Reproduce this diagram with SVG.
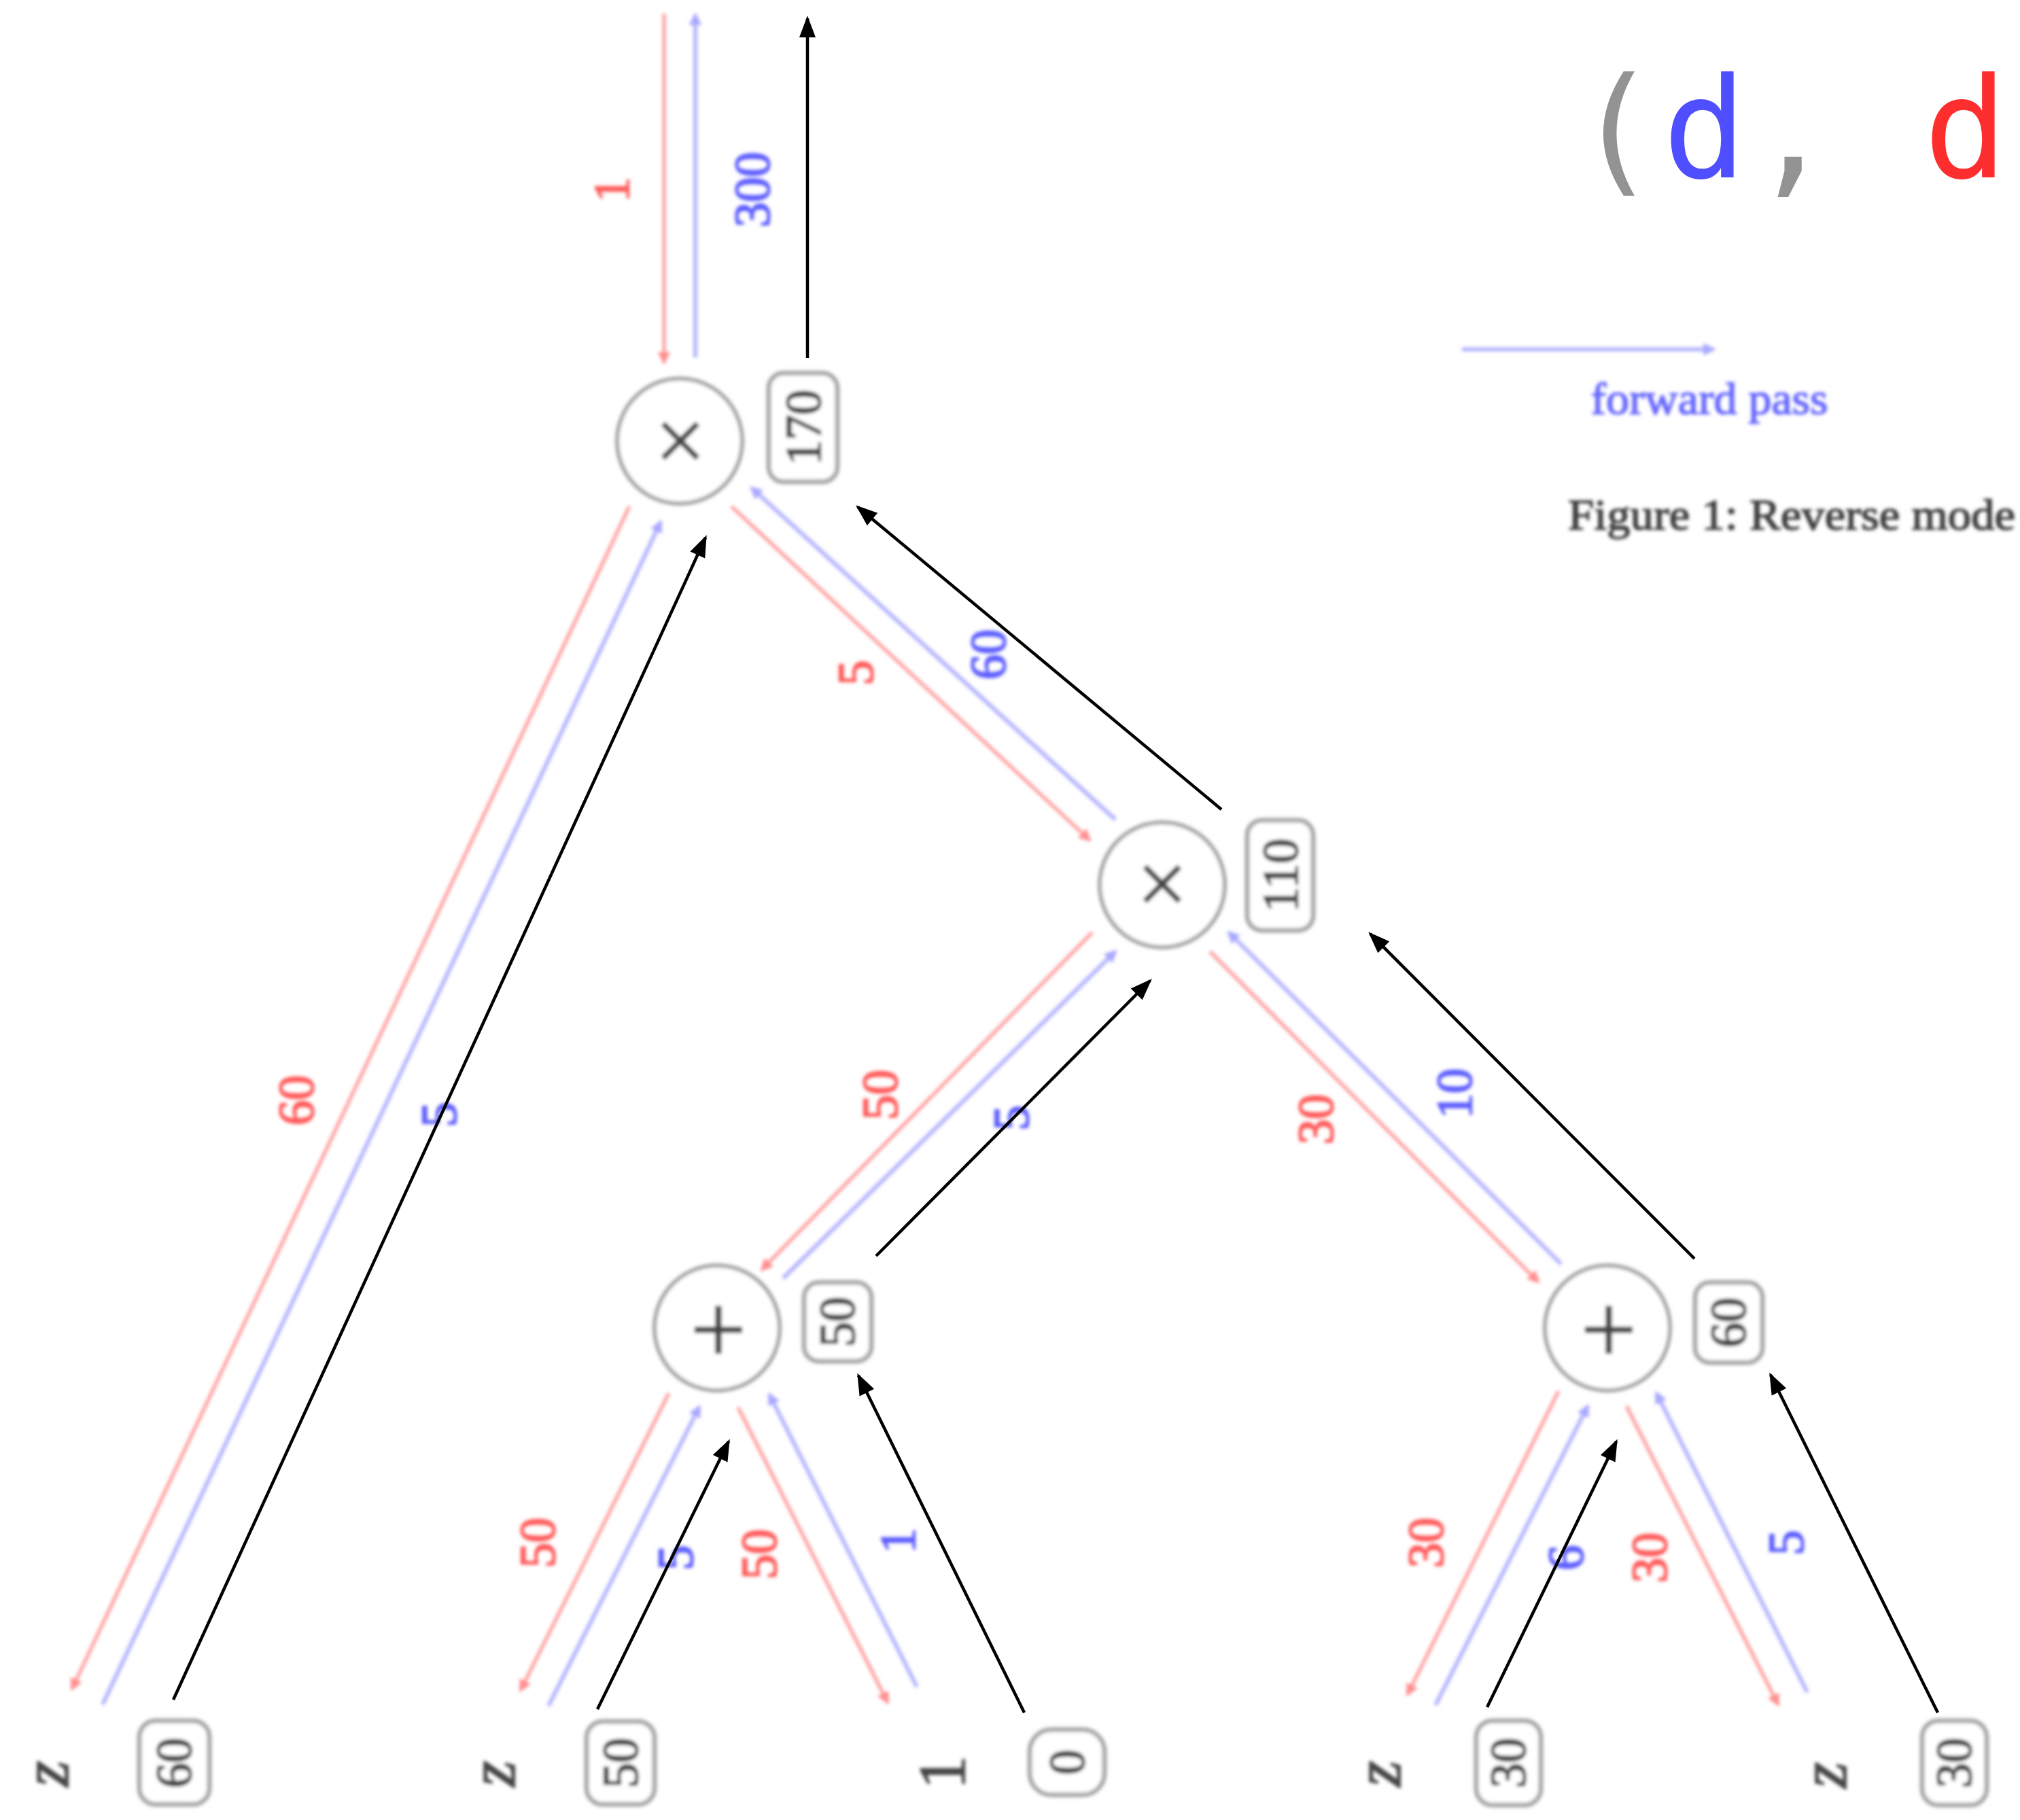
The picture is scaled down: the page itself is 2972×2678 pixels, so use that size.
<svg xmlns="http://www.w3.org/2000/svg" width="2972" height="2678" viewBox="0 0 2972 2678">
<defs>
<filter id="soft" x="-2%" y="-2%" width="104%" height="104%"><feGaussianBlur stdDeviation="2.5"/></filter>
<marker id="hr" markerUnits="userSpaceOnUse" markerWidth="24" markerHeight="24" viewBox="-2 -12 26 24" refX="16" refY="0" orient="auto"><path d="M0,-10 L20,0 L0,10 z" fill="#ff8f8f"/></marker>
<marker id="hb" markerUnits="userSpaceOnUse" markerWidth="24" markerHeight="24" viewBox="-2 -12 26 24" refX="16" refY="0" orient="auto"><path d="M0,-10 L20,0 L0,10 z" fill="#a9a9ff"/></marker>
<marker id="hk" markerUnits="userSpaceOnUse" markerWidth="36" markerHeight="28" viewBox="-2 -14 36 28" refX="28" refY="0" orient="auto"><path d="M0,-12 L32,0 L0,12 z" fill="#000"/></marker>
<style>
.red{stroke:#ff9c9c;stroke-width:5;fill:none;marker-end:url(#hr)}
.blue{stroke:#b4b4ff;stroke-width:6;fill:none;marker-end:url(#hb)}
.blk{stroke:#000;stroke-width:4.5;fill:none;marker-end:url(#hk)}
.circ{fill:#fff;stroke:#a3a3a3;stroke-width:6}
.box{fill:#fff;stroke:#a8a8a8;stroke-width:7}
.num{font-family:"Liberation Serif","DejaVu Serif",serif;font-size:74px;text-anchor:middle;stroke-width:2.2}
.bv{fill:#3c3c3c;stroke:#3c3c3c}
.lr{fill:#ff5a5a;stroke:#ff5a5a}
.lb{fill:#5c5cff;stroke:#5c5cff}
.sym{font-family:"DejaVu Sans",sans-serif;fill:#444;text-anchor:middle}
.leaf{font-family:"Liberation Serif","DejaVu Serif",serif;font-size:98px;fill:#444;stroke:#444;stroke-width:2;text-anchor:middle}
</style>
</defs>
<rect width="2972" height="2678" fill="#fff"/>
<g filter="url(#soft)">
<g id="connectors">
<line class="red" x1="977" y1="20" x2="977" y2="533"/>
<line class="blue" x1="1023" y1="526" x2="1023" y2="22"/>
<line class="red" x1="926" y1="745" x2="106" y2="2485"/>
<line class="blue" x1="151" y1="2508" x2="972" y2="768"/>
<line class="red" x1="1076" y1="745" x2="1603" y2="1236"/>
<line class="blue" x1="1641" y1="1206" x2="1106" y2="718"/>
<line class="red" x1="1607" y1="1372" x2="1121" y2="1868"/>
<line class="blue" x1="1152" y1="1881" x2="1641" y2="1400"/>
<line class="red" x1="1780" y1="1400" x2="2263" y2="1886"/>
<line class="blue" x1="2297" y1="1860" x2="1808" y2="1372"/>
<line class="red" x1="984" y1="2050" x2="766" y2="2487"/>
<line class="blue" x1="807" y1="2510" x2="1029" y2="2070"/>
<line class="red" x1="1086" y1="2071" x2="1306" y2="2505"/>
<line class="blue" x1="1349" y1="2482" x2="1132" y2="2052"/>
<line class="red" x1="2293" y1="2047" x2="2071" y2="2493"/>
<line class="blue" x1="2112" y1="2509" x2="2336" y2="2069"/>
<line class="red" x1="2393" y1="2069" x2="2616" y2="2508"/>
<line class="blue" x1="2659" y1="2490" x2="2437" y2="2050"/>
<g class="num">
<text class="lr" transform="translate(900,279) rotate(-90)" dy="0.34em">1</text>
<text class="lb" transform="translate(1107,279) rotate(-90)" dy="0.34em">300</text>
<text class="lr" transform="translate(436,1619) rotate(-90)" dy="0.34em">60</text>
<text class="lb" transform="translate(646,1640) rotate(-90)" dy="0.34em">5</text>
<text class="lr" transform="translate(1259,990) rotate(-90)" dy="0.34em">5</text>
<text class="lb" transform="translate(1454,963) rotate(-90)" dy="0.34em">60</text>
<text class="lr" transform="translate(1295,1611) rotate(-90)" dy="0.34em">50</text>
<text class="lb" transform="translate(1488,1645) rotate(-90)" dy="0.34em">5</text>
<text class="lr" transform="translate(1936,1647) rotate(-90)" dy="0.34em">30</text>
<text class="lb" transform="translate(2140,1609) rotate(-90)" dy="0.34em">10</text>
<text class="lr" transform="translate(791,2270) rotate(-90)" dy="0.34em">50</text>
<text class="lb" transform="translate(994,2292) rotate(-90)" dy="0.34em">5</text>
<text class="lr" transform="translate(1117,2287) rotate(-90)" dy="0.34em">50</text>
<text class="lb" transform="translate(1321,2267) rotate(-90)" dy="0.34em">1</text>
<text class="lr" transform="translate(2098,2270) rotate(-90)" dy="0.34em">30</text>
<text class="lb" transform="translate(2304,2292) rotate(-90)" dy="0.34em">6</text>
<text class="lr" transform="translate(2427,2292) rotate(-90)" dy="0.34em">30</text>
<text class="lb" transform="translate(2628,2270) rotate(-90)" dy="0.34em">5</text>
</g>
</g>
<g id="node-top-mul">
<circle class="circ" cx="1000" cy="649" r="92"/>
<text class="sym" x="1001" y="650" dy="0.3em" font-size="100">×</text>
<rect class="box" x="1131" y="549" width="101" height="160" rx="22"/>
<text class="num bv" transform="translate(1182,629) rotate(-90)" dy="0.34em">170</text>
</g>
<g id="node-mid-mul">
<circle class="circ" cx="1710" cy="1302" r="92"/>
<text class="sym" x="1710" y="1302" dy="0.3em" font-size="100">×</text>
<rect class="box" x="1835" y="1207" width="97" height="162" rx="22"/>
<text class="num bv" transform="translate(1884,1288) rotate(-90)" dy="0.34em">110</text>
</g>
<g id="node-left-add">
<circle class="circ" cx="1055" cy="1954" r="92"/>
<text class="sym" x="1057" y="1958" dy="0.3em" font-size="112">+</text>
<rect class="box" x="1183" y="1887" width="99" height="116" rx="22"/>
<text class="num bv" transform="translate(1232,1945) rotate(-90)" dy="0.34em">50</text>
</g>
<g id="node-right-add">
<circle class="circ" cx="2365" cy="1954" r="92"/>
<text class="sym" x="2367" y="1958" dy="0.3em" font-size="112">+</text>
<rect class="box" x="2494" y="1887" width="99" height="118" rx="22"/>
<text class="num bv" transform="translate(2543,1946) rotate(-90)" dy="0.34em">60</text>
</g>
<g id="leaf-1">
<text class="leaf" font-style="italic" transform="translate(77,2610) rotate(-90)" dy="0.23em">z</text>
<rect class="box" x="205" y="2532" width="103" height="123" rx="24"/>
<text class="num bv" transform="translate(256,2594) rotate(-90)" dy="0.34em">60</text>
</g>
<g id="leaf-2">
<text class="leaf" font-style="italic" transform="translate(734,2610) rotate(-90)" dy="0.23em">z</text>
<rect class="box" x="863" y="2533" width="100" height="122" rx="24"/>
<text class="num bv" transform="translate(913,2594) rotate(-90)" dy="0.34em">50</text>
</g>
<g id="leaf-3">
<text class="leaf" transform="translate(1386,2608) rotate(-90)" dy="0.34em">1</text>
<rect class="box" x="1515" y="2545" width="110" height="96" rx="32"/>
<text class="num bv" transform="translate(1570,2593) rotate(-90)" dy="0.34em">0</text>
</g>
<g id="leaf-4">
<text class="leaf" font-style="italic" transform="translate(2037,2610) rotate(-90)" dy="0.23em">z</text>
<rect class="box" x="2172" y="2532" width="95" height="124" rx="24"/>
<text class="num bv" transform="translate(2219,2594) rotate(-90)" dy="0.34em">30</text>
</g>
<g id="leaf-5">
<text class="leaf" font-style="italic" transform="translate(2693,2612) rotate(-90)" dy="0.23em">z</text>
<rect class="box" x="2828" y="2532" width="95" height="124" rx="24"/>
<text class="num bv" transform="translate(2875,2594) rotate(-90)" dy="0.34em">30</text>
</g>
<g id="legend">
<line class="blue" x1="2151" y1="514" x2="2521" y2="514"/>
<text x="2515" y="609" font-family="Liberation Serif, DejaVu Serif, serif" font-size="66" fill="#6464ff" stroke="#6464ff" stroke-width="1.5" text-anchor="middle" textLength="349" lengthAdjust="spacingAndGlyphs">forward pass</text>
</g>
<g id="caption">
<text x="2307" y="779" font-family="Liberation Serif, DejaVu Serif, serif" font-size="64" fill="#3a3a3a" stroke="#3a3a3a" stroke-width="1.5" textLength="658" lengthAdjust="spacingAndGlyphs">Figure 1:  Reverse mode</text>
</g>
</g>
<g id="black-arrows">
<line class="blk" x1="1188" y1="527" x2="1188" y2="27"/>
<line class="blk" x1="255" y1="2501" x2="1038" y2="791"/>
<line class="blk" x1="1797" y1="1191" x2="1262" y2="746"/>
<line class="blk" x1="1289" y1="1848" x2="1692" y2="1443"/>
<line class="blk" x1="2493" y1="1852" x2="2016" y2="1374"/>
<line class="blk" x1="879" y1="2515" x2="1072" y2="2121"/>
<line class="blk" x1="1507" y1="2520" x2="1263" y2="2024"/>
<line class="blk" x1="2188" y1="2512" x2="2378" y2="2121"/>
<line class="blk" x1="2851" y1="2520" x2="2605" y2="2023"/>
</g>
<g id="title">
<text y="261" font-family="DejaVu Sans Mono, monospace" font-size="205" text-anchor="middle"><tspan x="2378" fill="#939393">(</tspan><tspan x="2508" fill="#4f4fff">d</tspan><tspan x="2637" fill="#939393">,</tspan><tspan x="2765"> </tspan><tspan x="2892" fill="#ff2e2e">d</tspan></text>
</g>
</svg>
